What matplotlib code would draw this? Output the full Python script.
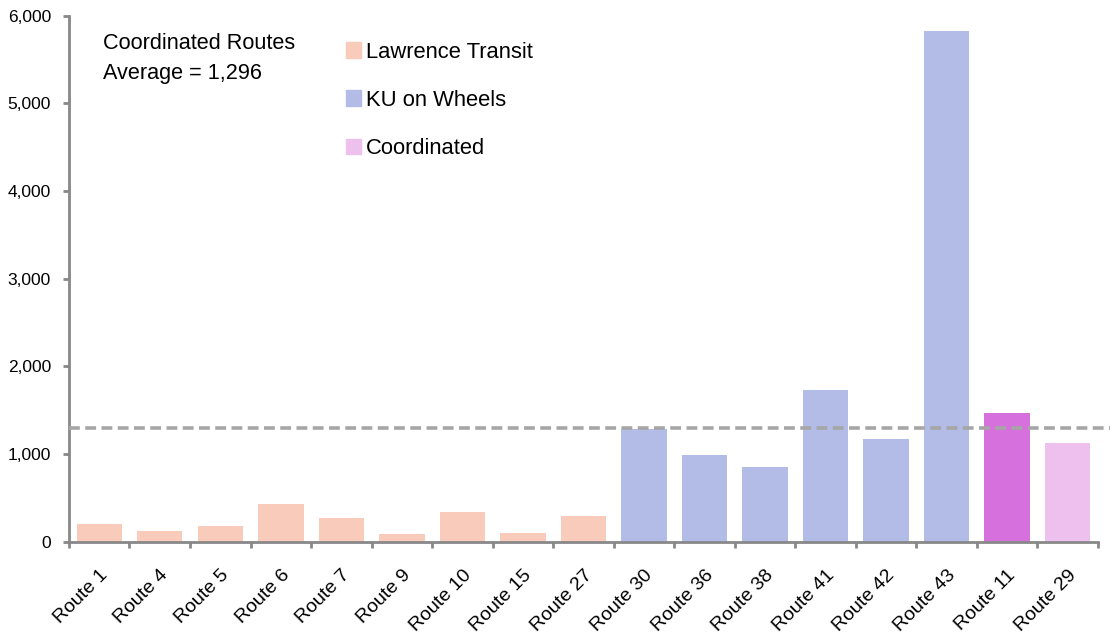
import numpy as np
import matplotlib.pyplot as plt
import matplotlib.transforms as mtransforms
from matplotlib.patches import Patch

plt.rcParams['font.family'] = ['Liberation Sans', 'DejaVu Sans']

# Route ridership by operator
routes = ['Route 1', 'Route 4', 'Route 5', 'Route 6', 'Route 7', 'Route 9', 'Route 10',
          'Route 15', 'Route 27', 'Route 30', 'Route 36', 'Route 38', 'Route 41',
          'Route 42', 'Route 43', 'Route 11', 'Route 29']
riders = [198, 118, 175, 426, 266, 84, 335, 95, 289,
          1280, 994, 857, 1726, 1166, 5820, 1463, 1120]
group = ['LT'] * 9 + ['KU'] * 6 + ['C11', 'C29']
coord_avg = 1296

colors = {'LT': '#F8CBBA', 'KU': '#B3BCE7', 'C11': '#D670DC', 'C29': '#EDC0EE'}
axis_gray = '#888888'

fig = plt.figure(figsize=(11.12, 6.35), dpi=100)
ax = fig.add_axes([0.062, 0.147, 0.9254, 0.8284])

x = np.arange(len(routes))
ax.bar(x, riders, width=0.75, color=[colors[g] for g in group], zorder=2)

# average line for the coordinated routes, runs past the axis to the edge
ax.plot([-0.5, 16.7], [coord_avg, coord_avg], ls=(0, (3, 1.5)), lw=2.6,
        color='#A6A6A6', clip_on=False, zorder=3)

ax.set_xlim(-0.5, len(routes) - 0.5)
ax.set_ylim(0, 6000)
ax.set_yticks(range(0, 6001, 1000))
ax.set_yticklabels([f'{v:,}' for v in range(0, 6001, 1000)], fontsize=12.5)

ax.set_xticks(x)
ax.set_xticklabels(routes, rotation=45, ha='right', rotation_mode='anchor', fontsize=14)
shift = mtransforms.ScaledTranslation(1 / 100, 0, fig.dpi_scale_trans)
for lab in ax.get_xticklabels():
    lab.set_transform(lab.get_transform() + shift)
ax.set_xticks(np.arange(-0.5, len(routes)), minor=True)
ax.tick_params(axis='x', which='major', length=0, pad=18)
ax.tick_params(axis='x', which='minor', length=4, width=2, color=axis_gray)
ax.tick_params(axis='y', length=4, width=2, color=axis_gray, pad=9)

for s in ['top', 'right']:
    ax.spines[s].set_visible(False)
for s in ['left', 'bottom']:
    ax.spines[s].set_color(axis_gray)
    ax.spines[s].set_linewidth(2)

fig.text(0.0926, 0.9224, 'Coordinated Routes', fontsize=15.6, va='baseline')
fig.text(0.0926, 0.8751, 'Average = 1,296', fontsize=15.6, va='baseline')

handles = [Patch(color=colors['LT'], label='Lawrence Transit'),
           Patch(color=colors['KU'], label='KU on Wheels'),
           Patch(color=colors['C29'], label='Coordinated')]
ax.legend(handles=handles, loc='upper left', bbox_to_anchor=(0.311, 0.9345),
          bbox_transform=fig.transFigure, frameon=False, fontsize=15.8,
          borderpad=0, borderaxespad=0, handlelength=0.7, handleheight=0.7,
          handletextpad=0.2, labelspacing=1.24)

plt.savefig('out.png', dpi=100)
